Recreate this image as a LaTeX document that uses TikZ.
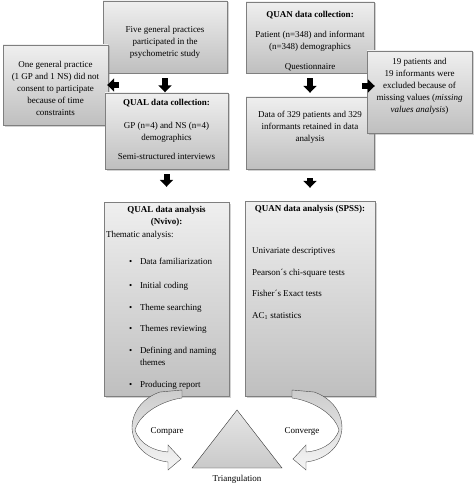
\documentclass[tikz,border=0pt]{standalone}
\usepackage{fontspec}
\setmainfont{Liberation Serif}
\usetikzlibrary{arrows.meta,positioning,shadows}
\definecolor{boxedge}{HTML}{7F7F7F}
\definecolor{boxtop}{HTML}{EFEFEF}
\definecolor{boxbottom}{HTML}{BFBFBF}
% text of a box: width, height, top gap, lines
\newcommand{\inbox}[4]{\parbox[c][#2pt][t]{#1pt}{\centering\vspace*{#3pt}#4}}
% one bulleted stage of the thematic analysis
\newcommand{\stage}[2][9.5pt]{\par\vspace{#1}\hangindent=34pt\hangafter=1\hspace*{23pt}\makebox[11pt][l]{\textbullet}#2}

\begin{document}
\begin{tikzpicture}[x=1pt, y=-1pt,
  box/.style={draw=boxedge, inner sep=0pt, top color=boxtop, bottom color=boxbottom,
    drop shadow={shadow xshift=1.5pt, shadow yshift=-1.5pt, opacity=0.35},
    font=\fontsize{9}{12}\selectfont},
  fatarrow/.style={-{Triangle[width=13pt,length=7pt]}, line width=6pt},
  ribbon/.style={draw=gray!60!black, top color=gray!40, bottom color=gray!8},
  lbl/.style={font=\fontsize{9}{12}\selectfont}]

  \path[use as bounding box, fill=white] (0,0) rectangle (474,484);

  % Qualitative strand
  \node[box] (five) at (165,37) {\inbox{124}{72}{25.5}{Five general practices\\participated in the\\psychometric study}};
  \node[box] (onegp) at (55.5,85) {\inbox{105}{80}{16.5}{One general practice\\(1 GP and 1 NS) did not\\consent to participate\\because of time\\constraints}};
  \node[box] (qualcol) at (166.5,131) {\inbox{123}{76}{6.5}{\textbf{QUAL data collection:}\\[11pt]GP (n=4) and NS (n=4)\\demographics\\[7pt]Semi-structured interviews}};

  % Quantitative strand
  \node[box] (quancol) at (310,37.5) {\inbox{128}{71}{9.5}{\textbf{QUAN data collection:}\\[8pt]Patient (n=348) and informant\\(n=348) demographics\\[8pt]Questionnaire}};
  \node[box] (retain) at (310,133) {\inbox{128}{72}{14.5}{Data of 329 patients and 329\\informants retained in data\\analysis}};
  \node[box] (excl) at (419.5,92) {\inbox{105}{82}{7.5}{19 patients and\\19 informants were\\excluded because of\\missing values (\textit{missing}\\\textit{values analysis})}};

  % Analysis boxes
  \node[box] (qualan) at (166.5,299) {\inbox{125}{194}{4.5}{\textbf{QUAL data analysis\\(Nvivo):}\par
    \raggedright\leftskip=2pt\vspace{1pt}Thematic analysis:
    \stage[15pt]{Data familiarization}
    \stage[12pt]{Initial coding}
    \stage{Theme searching}
    \stage{Themes reviewing}
    \stage[10pt]{Defining and naming\newline themes}
    \stage{Producing report}}};
  \node[box] (quanan) at (310,298.5) {\inbox{130}{195}{4.5}{\textbf{QUAN data analysis (SPSS):}\par
    \vspace{30pt}\raggedright\leftskip=7pt Univariate descriptives\\[10pt]Pearson´s chi-square tests\\[9pt]Fisher´s Exact tests\\[10pt]AC\textsubscript{1} statistics}};

  % Flow arrows
  \coordinate (qualfork) at (119,85);
  \coordinate (quanfork) at (362,86);
  \draw[fatarrow, shorten <=5pt, shorten >=0.5pt] (five.south) -- (five.south |- qualcol.north);
  \draw[fatarrow, shorten >=-1pt] (qualfork) -- (qualfork -| onegp.east);
  \draw[fatarrow, shorten <=5pt, shorten >=15pt] (qualcol.south) -- (qualcol.south |- qualan.north);
  \draw[fatarrow, shorten <=5pt, shorten >=4pt] (quancol.south) -- (quancol.south |- retain.north);
  \draw[fatarrow, shorten >=-8pt] (quanfork) -- (quanfork -| excl.west);
  \draw[fatarrow, shorten <=9pt, shorten >=13pt] (retain.south) -- (retain.south |- quanan.north);

  % Triangulation
  \coordinate (apex) at (237,410);
  \coordinate (tribase) at (237,468);
  \draw[draw=gray!40!black, top color=gray!20, bottom color=gray!42] (apex) -- (282,468) -- (192,468) -- cycle;
  \node[lbl, below=6pt of tribase, inner sep=1pt] (trilabel) {Triangulation};

  % Curved arrows, the right one mirrored
  \foreach \flip/\shiftx in {1/0, -1/474} {
    \begin{scope}[xshift=\shiftx pt, xscale=\flip]
      \path[ribbon] (160,392) -- (182,390) -- (182,398)
        .. controls (165,400) and (140,412) .. (135,430)
        .. controls (140,445) and (155,451) .. (168,452)
        -- (168,445) -- (181,459) -- (168,470) -- (168,462)
        .. controls (150,460) and (133,448) .. (132,428)
        .. controls (132,410) and (145,397) .. (160,392) -- cycle;
    \end{scope}
  }
  \node[lbl] (compare) at (167,431) {Compare};
  \node[lbl] (converge) at (302,431) {Converge};
\end{tikzpicture}
\end{document}
